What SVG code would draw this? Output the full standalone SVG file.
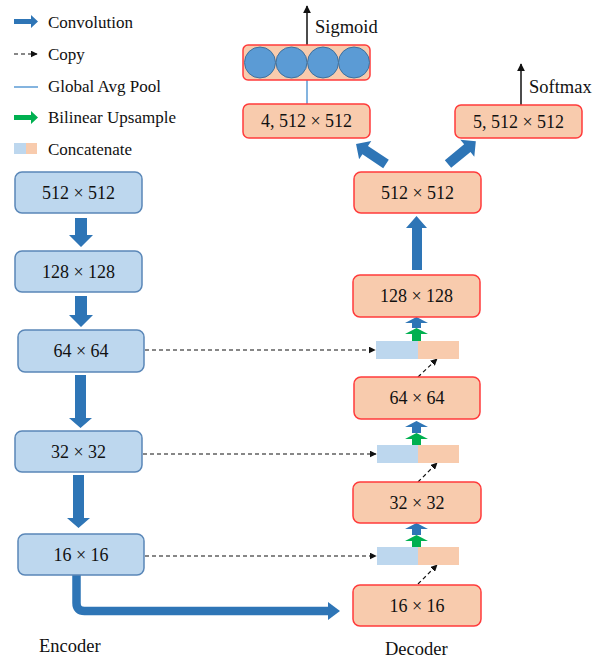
<svg xmlns="http://www.w3.org/2000/svg" width="601" height="659" viewBox="0 0 601 659">
<defs>
<style>
.enc{fill:#bdd7ee;stroke:#5a87b8;stroke-width:1.5}
.dec{fill:#f8cbad;stroke:#ff3b3b;stroke-width:1.5}
.t{font-family:"Liberation Serif","DejaVu Serif",serif;font-size:18px;fill:#111;text-anchor:middle}
.lg{font-family:"Liberation Serif","DejaVu Serif",serif;font-size:17px;fill:#111}
.conv{fill:#2e75b6}
.up{fill:#00b050}
.copy{stroke:#111;stroke-width:1.2;stroke-dasharray:4 3;fill:none}
.cb{fill:#bdd7ee}
.co{fill:#f8cbad}
.circ{fill:#5b9bd5;stroke:#41719c;stroke-width:1}
</style>
<marker id="ah" viewBox="0 0 10 10" refX="9" refY="5" markerWidth="7" markerHeight="7" markerUnits="userSpaceOnUse" orient="auto">
<path d="M0,0 L10,5 L0,10 Z" fill="#111"/>
</marker>
<marker id="ahs" viewBox="0 0 10 10" refX="9" refY="5" markerWidth="8" markerHeight="8" markerUnits="userSpaceOnUse" orient="auto">
<path d="M0,0 L10,5 L0,10 Z" fill="#111"/>
</marker>
</defs>
<rect width="601" height="659" fill="#fff"/>

<g id="legend">
<path class="conv" d="M14,19 H31 V15 L38,21.5 L31,28 V24 H14 Z"/>
<text class="lg" x="48" y="28">Convolution</text>
<line class="copy" x1="14" y1="54" x2="37" y2="54" marker-end="url(#ah)"/>
<text class="lg" x="48" y="60">Copy</text>
<line x1="14" y1="87" x2="38" y2="87" stroke="#5b9bd5" stroke-width="1.5"/>
<text class="lg" x="48" y="92">Global Avg Pool</text>
<path class="up" d="M14,115 H31 V111 L38,117.5 L31,124 V120 H14 Z"/>
<text class="lg" x="48" y="123">Bilinear Upsample</text>
<rect class="cb" x="14" y="143" width="12" height="11"/>
<rect class="co" x="26" y="143" width="11" height="11"/>
<text class="lg" x="48" y="155">Concatenate</text>
</g>

<g id="connectors">
<!-- encoder down arrows -->
<path class="conv" d="M75,218 H87 V235 H93 L81,247 L69,235 H75 Z"/>
<path class="conv" d="M75,296 H87 V315 H93 L81,327 L69,315 H75 Z"/>
<path class="conv" d="M75,375 H86 V418 H92 L80.5,428 L69,418 H75 Z"/>
<path class="conv" d="M73,475 H84 V518 H90 L78.5,528 L67,518 H73 Z"/>
<!-- bottleneck L arrow -->
<path d="M76.5,575 V603 Q76.5,611 84.5,611 H329" fill="none" stroke="#2e75b6" stroke-width="8.5"/>
<path class="conv" d="M328,602 L340,611 L328,620 Z"/>
<!-- copy connectors -->
<line class="copy" x1="145" y1="350" x2="375" y2="350" marker-end="url(#ah)"/>
<line class="copy" x1="143" y1="454" x2="376" y2="454" marker-end="url(#ah)"/>
<line class="copy" x1="145" y1="556" x2="376" y2="556" marker-end="url(#ah)"/>
<line class="copy" x1="418" y1="377" x2="437" y2="359" marker-end="url(#ah)"/>
<line class="copy" x1="418" y1="482" x2="437" y2="463" marker-end="url(#ah)"/>
<line class="copy" x1="418" y1="584" x2="437" y2="565" marker-end="url(#ah)"/>
<!-- upsample + conv small arrows -->
<path class="up" d="M412,341 V334 H405 L416.5,328 L428,334 H421 V341 Z"/>
<path class="conv" d="M412,328 V323 H405 L416.5,317 L428,323 H421 V328 Z"/>
<path class="up" d="M412,445 V439 H405 L416.5,433 L428,439 H421 V445 Z"/>
<path class="conv" d="M412,433 V427 H405 L416.5,421 L428,427 H421 V433 Z"/>
<path class="up" d="M412,547 V541 H405 L416.5,535 L428,541 H421 V547 Z"/>
<path class="conv" d="M412,535 V529 H405 L416.5,523 L428,529 H421 V535 Z"/>
<!-- 128 -> 512 -->
<path class="conv" d="M412,270 V228 H406 L416.5,216 L427,228 H422 V270 Z"/>
<!-- heads -->
<path class="conv" transform="translate(386,164) rotate(-146.3)" d="M0,-5 H25 V-11 L36,0 L25,11 V5 H0 Z"/>
<path class="conv" transform="translate(448,164) rotate(-39.4)" d="M0,-5 H25 V-11 L36,0 L25,11 V5 H0 Z"/>
<!-- global avg pool -->
<line x1="307" y1="80" x2="307" y2="104" stroke="#5b9bd5" stroke-width="1.5"/>
<!-- outputs -->
<line x1="307" y1="45" x2="307" y2="6" stroke="#111" stroke-width="1.5" marker-end="url(#ahs)"/>
<line x1="521" y1="105" x2="521" y2="64" stroke="#111" stroke-width="1.5" marker-end="url(#ahs)"/>
</g>

<g id="enc512"><rect class="enc" x="15" y="172" width="127" height="41" rx="7"/><text class="t" x="78.5" y="199">512 × 512</text></g>
<g id="enc128"><rect class="enc" x="15" y="251" width="127" height="41" rx="7"/><text class="t" x="78.5" y="278">128 × 128</text></g>
<g id="enc64"><rect class="enc" x="18" y="330" width="126" height="42" rx="7"/><text class="t" x="81" y="357">64 × 64</text></g>
<g id="enc32"><rect class="enc" x="15" y="431" width="127" height="41" rx="7"/><text class="t" x="78.5" y="458">32 × 32</text></g>
<g id="enc16"><rect class="enc" x="18" y="534" width="126" height="41" rx="7"/><text class="t" x="81" y="561">16 × 16</text></g>

<g id="dec16"><rect class="dec" x="353" y="585" width="128" height="41" rx="7"/><text class="t" x="417" y="612">16 × 16</text></g>
<g id="cat16"><rect class="cb" x="377" y="547" width="41" height="18"/><rect class="co" x="418" y="547" width="41" height="18"/></g>
<g id="dec32"><rect class="dec" x="353" y="482" width="128" height="41" rx="7"/><text class="t" x="417" y="509">32 × 32</text></g>
<g id="cat32"><rect class="cb" x="377" y="445" width="41" height="18"/><rect class="co" x="418" y="445" width="41" height="18"/></g>
<g id="dec64"><rect class="dec" x="354" y="377" width="126" height="42" rx="7"/><text class="t" x="417" y="404">64 × 64</text></g>
<g id="cat64"><rect class="cb" x="376" y="341" width="42" height="18"/><rect class="co" x="418" y="341" width="41" height="18"/></g>
<g id="dec128"><rect class="dec" x="353" y="275" width="127" height="42" rx="7"/><text class="t" x="416.5" y="302">128 × 128</text></g>
<g id="dec512"><rect class="dec" x="354" y="172" width="127" height="41" rx="7"/><text class="t" x="417.5" y="199">512 × 512</text></g>
<g id="cls"><rect class="dec" x="243" y="104" width="127" height="34" rx="6"/><text class="t" x="306.5" y="127">4, 512 × 512</text></g>
<g id="seg"><rect class="dec" x="455" y="105" width="127" height="33" rx="6"/><text class="t" x="518.5" y="128">5, 512 × 512</text></g>
<g id="pool">
<rect class="dec" x="243" y="45" width="127" height="35" rx="5"/>
<circle class="circ" cx="260" cy="62.5" r="15.5"/>
<circle class="circ" cx="291.5" cy="62.5" r="15.5"/>
<circle class="circ" cx="323" cy="62.5" r="15.5"/>
<circle class="circ" cx="354" cy="62.5" r="15.5"/>
</g>

<text class="lg" x="315" y="33" style="font-size:18.5px">Sigmoid</text>
<text class="lg" x="529" y="93" style="font-size:18.5px">Softmax</text>
<text class="lg" x="39" y="652" style="font-size:18.5px">Encoder</text>
<text class="lg" x="385" y="655" style="font-size:18.5px">Decoder</text>
</svg>
